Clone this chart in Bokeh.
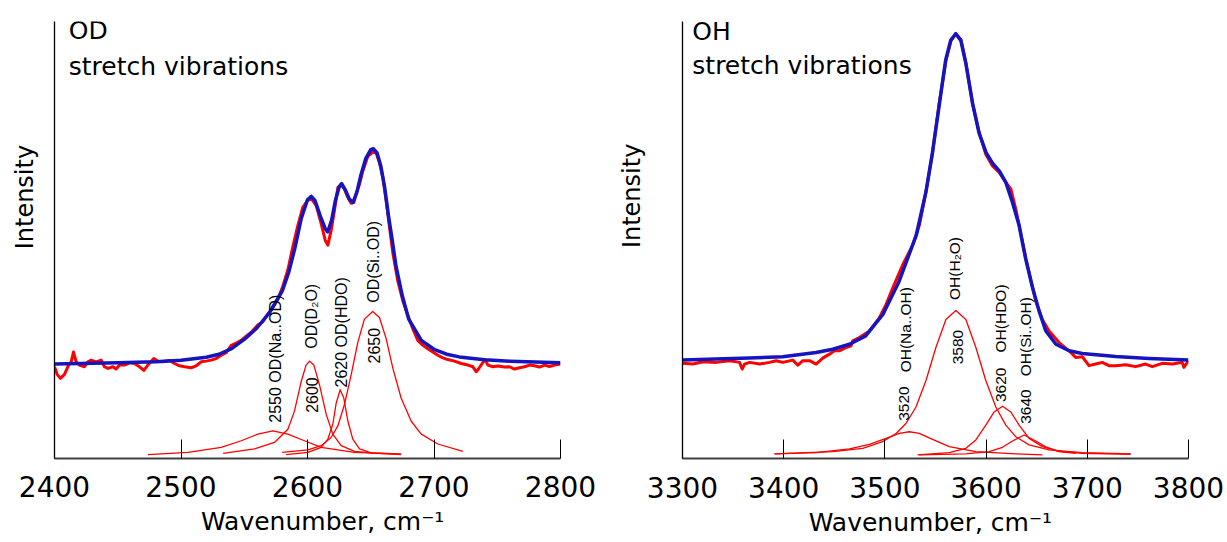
import numpy as np
from bokeh.plotting import figure
from bokeh.models import Range1d, FixedTicker, LinearAxis
from bokeh.layouts import row
from bokeh.embed import file_html
from bokeh.resources import INLINE
from bokeh.core.properties import value

# ------------------------------------------------------------------ OD data
od_meas_wn = [2400, 2402.1, 2404.7, 2407.9, 2411.1, 2413.2, 2415, 2417.1, 2419.8, 2423.7, 2426.4, 2429,
              2432.9, 2436.9, 2439.5, 2442.2, 2446.1, 2448.7, 2451.4, 2455.3, 2459.3, 2463.2, 2467.2,
              2470.6, 2473.8, 2478.5, 2481.7, 2485.6, 2490.9, 2494.9, 2498.8, 2502.8, 2508, 2512,
              2515.9, 2519.9, 2523.8, 2527.8, 2531.8, 2535.7, 2539.7, 2543.6, 2547.6, 2551.5, 2555.5,
              2560.7, 2564.7, 2568.6, 2572.6, 2576.5, 2580.5, 2584.5, 2588.4, 2592.4, 2596.3, 2600.3,
              2603.4, 2606.9, 2610.8, 2614, 2616.1, 2618.7, 2621.3, 2624, 2626.6, 2629.2, 2631.9,
              2634.5, 2636.6, 2638.5, 2641.1, 2643.7, 2647.7, 2651.6, 2654.3, 2656.9, 2659.6, 2662.2,
              2664.8, 2667.5, 2671.4, 2675.4, 2679.3, 2683.3, 2687.2, 2691.2, 2695.1, 2699.1, 2703,
              2707, 2710.9, 2716.2, 2721.5, 2726.8, 2730.7, 2733.3, 2735.2, 2738.6, 2740.5, 2742.6,
              2746.5, 2750.5, 2755.7, 2759.7, 2763.6, 2767.6, 2771.5, 2775.5, 2779.4, 2783.4, 2787.4,
              2791.3, 2795.3, 2800]
od_meas_int = [93, 85.3, 81.3, 85.3, 94.7, 98, 108, 98, 94.7, 93, 98, 99.7,
               98, 99.7, 93, 91.3, 93, 90.7, 94.7, 94.7, 97, 96.3, 93,
               89.3, 94.7, 101.3, 98.7, 98, 99.3, 96.3, 94, 93, 92, 94,
               98, 98.7, 99.7, 101.3, 104.7, 107.3, 114.7, 117, 119.7, 124, 128,
               135.3, 138.7, 146.3, 153, 161.3, 174.7, 191.3, 214.7, 236.3, 254.7, 262,
               263, 256.3, 238, 221.3, 216.3, 231.3, 251.3, 274.7, 277.3, 273, 264.7,
               258.7, 259.7, 268.7, 278, 291.3, 306.3, 310.7, 309.7, 299.7, 284.7, 261.3,
               234.7, 208, 179.7, 159.7, 145.3, 131.3, 119.7, 114.7, 111.3, 108, 104.7,
               102, 100.3, 98.7, 96.3, 94.7, 93, 88, 90.7, 97.3, 100.3, 94.7,
               93, 93.7, 92.7, 93, 90.7, 92, 93, 94.7, 94, 92.7, 94.7,
               93.3, 94.7, 95.7]

od_fit_wn = [2400, 2450, 2480, 2500, 2520, 2530, 2540, 2550, 2560, 2570, 2580, 2585, 2590, 2595,
             2600, 2603, 2606, 2610, 2614, 2616, 2619, 2622, 2625, 2627, 2630, 2633, 2636, 2639,
             2642, 2646, 2650, 2652, 2655, 2658, 2661, 2664, 2667, 2670, 2675, 2680, 2690, 2700,
             2710, 2720, 2740, 2760, 2780, 2800]
od_fit_int = [95.7, 97, 98, 99.7, 102.7, 105.7, 111.3, 120.7, 132.3, 148, 169.7, 188, 213, 243,
              262.3, 265.7, 261.3, 246.3, 233, 229.7, 241.3, 261.3, 275.3, 278.7, 272, 263, 259.7, 269.7,
              286.3, 304, 313, 314, 309.7, 296.3, 274.7, 246.3, 221.3, 194.7, 164.7, 141.3, 119.7, 110.7,
              105.7, 103, 100, 98.7, 97.7, 97]

od_c2550_wn = [2473.8, 2505.4, 2531.8, 2547.6, 2560.7, 2572.6, 2584.5, 2597.6, 2610.8, 2637.2, 2674]
od_c2550_int = [4, 6.3, 11.3, 18, 24.7, 28, 24.7, 18, 11.3, 6.3, 4.7]

od_c2600_wn = [2533.3, 2558.1, 2573.9, 2584.5, 2589.7, 2595, 2598.9, 2601.6, 2605, 2609.5, 2614.8,
               2620, 2626.6, 2637.2, 2653, 2668.8]
od_c2600_int = [5.3, 9.7, 16.3, 29.7, 48, 78, 94.7, 98.7, 94.7, 74.7, 44.7, 24.7, 13, 7.3, 5.3, 4.7]

od_c2620_wn = [2583.1, 2600.3, 2610.8, 2616.1, 2620, 2622.7, 2625.8, 2628.7, 2631.9, 2635.8, 2641.1,
               2650.3, 2663.5, 2674]
od_c2620_int = [4, 6.3, 11.3, 19.7, 34.7, 56.3, 69.7, 61.3, 38, 19.7, 9.7, 5.7, 4.7, 4]

od_c2650_wn = [2580, 2600.3, 2610.8, 2618.7, 2624, 2629.2, 2634.5, 2639.8, 2645, 2651.6, 2656.9,
               2662.2, 2667.5, 2674, 2681.9, 2689.9, 2703, 2722.8]
od_c2650_int = [6.3, 8.7, 13, 21.3, 33, 54.7, 84.7, 118, 141.3, 149, 143, 121.3, 91.3, 61.3, 38,
                24.7, 14.7, 7.3]

od_ticks = [2400, 2500, 2600, 2700, 2800]
od_band_text = ["2550 OD(Na..OD)", "2600", "OD(D\u2082O)", "2620 OD(HDO)", "2650", "OD(Si..OD)"]
od_band_wn = [2574.9, 2603.2, 2603.2, 2626.9, 2652.2, 2652.2]
od_band_int = [36.3, 46.3, 111.3, 72, 96.3, 158]
od_head_text = ["OD", "stretch vibrations"]
od_head_wn = [2411.3, 2411.3]
od_head_int = [433.4, 397]

# ------------------------------------------------------------------ OH data
oh_meas_wn = [3300, 3310.4, 3320.2, 3333.4, 3346.5, 3356.4, 3359, 3361.3, 3366.3, 3376.1, 3386,
              3392.6, 3399.2, 3409, 3414, 3418.9, 3425.5, 3432, 3438.6, 3445.2, 3450.1, 3455.1,
              3461.6, 3466.6, 3468.2, 3474.8, 3484.7, 3494.5, 3501.1, 3507.7, 3517.5, 3527.4, 3534,
              3540.5, 3547.1, 3553.7, 3560.3, 3565.2, 3570.1, 3575.1, 3580, 3586.6, 3593.2, 3599.7,
              3606.3, 3612.9, 3619.5, 3624.4, 3629.3, 3639.2, 3649.1, 3655.6, 3662.2, 3672.1, 3682,
              3688.5, 3695.1, 3701.7, 3708.3, 3714.8, 3721.4, 3728, 3737.9, 3747.7, 3757.6, 3764.2,
              3774.1, 3783.9, 3793.8, 3795.4, 3800]
oh_meas_int = [96, 95.3, 97.7, 97, 98.7, 97, 90.3, 95.3, 97, 95.3, 97,
               98.7, 97, 99.3, 94.3, 98.7, 98.7, 95.3, 101.3, 105.3, 108.7, 108.7,
               112, 113.7, 118.7, 122, 128.7, 142, 155.3, 172, 195.3, 215.3, 235.3,
               268.7, 308.7, 358.7, 401.3, 421.3, 428.7, 422.7, 399.3, 358, 328.7, 307,
               295.3, 288.7, 278.7, 272, 252, 202, 158.7, 140.3, 128.7, 117, 108.7,
               102, 102.7, 93.7, 95.3, 97, 93.7, 93.7, 94.7, 92.7, 95.3, 92.7,
               96, 95.3, 97, 92, 98.7]

oh_fit_wn = [3300, 3366, 3399, 3432, 3448.5, 3465, 3481, 3498, 3514, 3531, 3540.5, 3547, 3554, 3560,
             3565, 3570, 3575, 3580, 3586.6, 3593, 3600, 3606.3, 3613, 3619.5, 3626, 3632.6, 3639,
             3646, 3652.4, 3659, 3669, 3682, 3695, 3728, 3761, 3800]
oh_fit_int = [99.3, 101.3, 102.7, 107, 110.3, 115.3, 123.7, 145.3, 178.7, 225.3, 268.7, 308.7, 358.7,
              402, 422, 428.7, 422, 398.7, 358.7, 328.7, 308.7, 298, 290.3, 278.7, 258.7, 235.3, 202,
              172, 148.7, 128.7, 115.3, 108.7, 106, 103, 101, 99.3]

oh_c3520_wn = [3391, 3432.1, 3465, 3484.7, 3501.1, 3514.3, 3524.1, 3534, 3547.1, 3563.6, 3589.9,
               3629.3, 3655.6]
oh_c3520_int = [4.7, 6, 9.7, 14.3, 20.3, 25.3, 27, 25.3, 19.3, 12, 7, 4.7, 3.7]

oh_c3580_wn = [3391, 3448.5, 3478.1, 3497.8, 3511, 3520.8, 3530.7, 3540.6, 3550.4, 3560.3, 3570.1,
               3580, 3589.9, 3599.7, 3609.6, 3619.5, 3629.3, 3642.5, 3662.2, 3695.1, 3742.8]
oh_c3580_int = [4.7, 7, 10.3, 17, 25.3, 35.3, 52, 78.7, 112, 140.3, 149.3, 140.3, 112, 78.7, 52,
                33.7, 22, 13.7, 8.7, 6, 4.7]

oh_c3620_wn = [3532.3, 3563.6, 3580, 3589.9, 3599.7, 3608, 3616.2, 3624.4, 3632.6, 3642.5, 3655.6,
               3672.1, 3688.5]
oh_c3620_int = [3.7, 6, 10.3, 18.7, 33.7, 47, 52.7, 47, 33.7, 20.3, 12, 7, 5.3]

oh_c3640_wn = [3534, 3580, 3603, 3616.2, 3626.1, 3637.6, 3649.1, 3659, 3672.1, 3695.1, 3742.8]
oh_c3640_int = [3.7, 4.7, 7, 11.3, 17.7, 23.7, 17.7, 11.7, 7.3, 5.3, 4.3]

oh_ticks = [3300, 3400, 3500, 3600, 3700, 3800]
oh_band_text = ["3520", "OH(Na..OH)", "3580", "OH(H\u2082O)", "3620", "OH(HDO)", "3640", "OH(Si..OH)"]
oh_band_wn = [3519.2, 3520.5, 3571.8, 3568.5, 3614.5, 3614.5, 3639.2, 3639.2]
oh_band_int = [38, 87, 95, 160, 57, 107, 35, 83]
oh_head_text = ["OH", "stretch vibrations"]
oh_head_wn = [3309.7, 3309.7]
oh_head_int = [431, 397]

X_TITLE = "Wavenumber, cm\u207b\u00b9"
Y_TITLE = "Intensity"

# ------------------------------------------------------------------ styling
BIG = "DejaVu Sans"
SMALL = "Liberation Sans"
RED = "#ff0000"
BLUE = "#1414c0"


def bare_axis(ax):
    ax.major_tick_in = 0
    ax.major_tick_out = 0
    ax.minor_tick_in = 0
    ax.minor_tick_out = 0
    ax.axis_line_color = None
    ax.major_label_text_color = "black"


def panel(width, border_left, border_right, border_top, border_bottom, xr, yr, ticks,
          meas, fit, comps, bands, band_size, heads,
          xtitle_at, ytitle_at, label_standoff, xtitle_standoff, ytitle_standoff):
    p = figure(width=width, height=542, output_backend="svg", toolbar_location=None, title=None,
               x_range=Range1d(*xr), y_range=Range1d(*yr),
               min_border_left=border_left, min_border_right=border_right,
               min_border_top=border_top, min_border_bottom=border_bottom)
    p.outline_line_color = None
    p.grid.visible = False
    p.background_fill_color = "white"
    p.border_fill_color = "white"

    xa = p.xaxis[0]
    xa.ticker = FixedTicker(ticks=ticks)
    xa.major_tick_in = 19
    xa.major_tick_out = 0
    xa.minor_tick_in = 0
    xa.minor_tick_out = 0
    xa.major_tick_line_color = "black"
    xa.major_tick_line_width = 1
    xa.axis_line_color = "#404040"
    xa.axis_line_width = 2
    xa.major_label_text_font = BIG
    xa.major_label_text_font_size = "28px"
    xa.major_label_text_color = "black"
    xa.major_label_standoff = label_standoff

    # x title, drawn as the single label of a bare second axis
    xt = LinearAxis(ticker=FixedTicker(ticks=[xtitle_at]),
                    major_label_overrides={xtitle_at: X_TITLE})
    bare_axis(xt)
    xt.major_label_text_font = BIG
    xt.major_label_text_font_size = "25px"
    xt.major_label_standoff = xtitle_standoff
    p.add_layout(xt, "below")

    ya = p.yaxis[0]
    ya.ticker = FixedTicker(ticks=[])
    ya.major_tick_in = 0
    ya.major_tick_out = 0
    ya.minor_tick_in = 0
    ya.minor_tick_out = 0
    ya.major_label_standoff = 0
    ya.major_label_text_font_size = "0px"
    ya.axis_line_color = "black"
    ya.axis_line_width = 1.3

    yt = LinearAxis(ticker=FixedTicker(ticks=[ytitle_at]),
                    major_label_overrides={ytitle_at: Y_TITLE},
                    major_label_orientation="parallel")
    bare_axis(yt)
    yt.major_label_text_font = BIG
    yt.major_label_text_font_size = "24px"
    yt.major_label_standoff = ytitle_standoff
    p.add_layout(yt, "left")

    for cx, cy in comps:
        p.line(cx, cy, line_color=RED, line_width=1.3, line_join="round")
    p.line(meas[0], meas[1], line_color=RED, line_width=3, line_join="round")
    p.line(fit[0], fit[1], line_color=BLUE, line_width=3.5, line_join="round")

    p.text(x=bands[1], y=bands[2], text=bands[0], angle=np.pi / 2,
           text_align="left", text_baseline="middle",
           text_font=value(SMALL), text_font_size=band_size, text_color="black")

    p.text(x=heads[1], y=heads[2], text=heads[0],
           text_align="left", text_baseline="middle",
           text_font=value(BIG), text_font_size="25px", text_color="black")
    return p


p1 = panel(615, 54, 55, 15, 84, (2400, 2800), (0, 443), od_ticks,
           (od_meas_wn, od_meas_int), (od_fit_wn, od_fit_int),
           [(od_c2550_wn, od_c2550_int), (od_c2600_wn, od_c2600_int),
            (od_c2620_wn, od_c2620_int), (od_c2650_wn, od_c2650_int)],
           (od_band_text, od_band_wn, od_band_int), "16px",
           (od_head_text, od_head_wn, od_head_int),
           2612, 265, 17, 7, 15)

p2 = panel(611, 67, 38, 21, 80, (3300, 3800), (0, 441), oh_ticks,
           (oh_meas_wn, oh_meas_int), (oh_fit_wn, oh_fit_int),
           [(oh_c3520_wn, oh_c3520_int), (oh_c3580_wn, oh_c3580_int),
            (oh_c3620_wn, oh_c3620_int), (oh_c3640_wn, oh_c3640_int)],
           (oh_band_text, oh_band_wn, oh_band_int), "15.5px",
           (oh_head_text, oh_head_wn, oh_head_int),
           3545, 265, 18, 7, 36)

layout = row(p1, p2)
open("out.html", "w").write(file_html(layout, INLINE))
